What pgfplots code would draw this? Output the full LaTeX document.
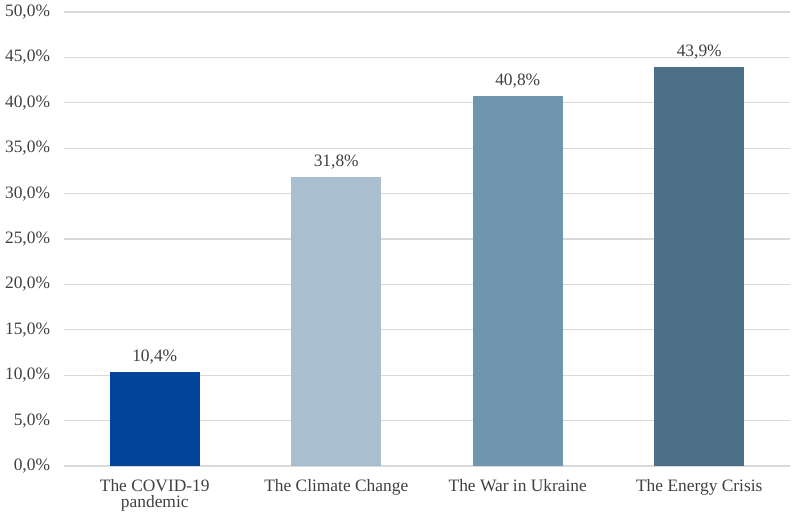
\documentclass[border=0pt]{standalone}
\usepackage{pgfplots}
\pgfplotsset{compat=1.18}
\usepackage{fontspec}
\setmainfont{Liberation Serif}
\definecolor{c1}{HTML}{02449A}
\definecolor{c2}{HTML}{A9BECE}
\definecolor{c3}{HTML}{7095B0}
\definecolor{c4}{HTML}{4D7089}
\definecolor{gridc}{HTML}{D9D9D9}
\definecolor{txt}{HTML}{404040}
\begin{document}
\fontsize{17.4bp}{16.5bp}\selectfont
\begin{tikzpicture}
\begin{axis}[
  scale only axis,
  width=726bp, height=454bp,
  xmin=-0.5, xmax=3.5,
  ymin=0, ymax=50,
  ytick={0,5,...,50},
  xtick={0,1,2,3},
  xticklabels={{The COVID-19\\pandemic},{The Climate Change},{The War in Ukraine},{The Energy Crisis}},
  xticklabel style={align=center, text=txt, yshift=-7bp, font=\fontsize{17.4bp}{16.5bp}\selectfont},
  yticklabel style={text=txt, xshift=-8bp, font=\fontsize{17.4bp}{16.5bp}\selectfont},
  /pgf/number format/assume math mode=true,
  yticklabel={\pgfmathprintnumber[fixed,fixed zerofill,precision=1,use comma]{\tick}\%},
  ymajorgrids,
  grid style={gridc, line width=1.2bp},
  axis line style={draw=none},
  major tick length=0pt,
  ybar, bar width=90bp, bar shift=0pt,
  nodes near coords={\pgfmathprintnumber[fixed,fixed zerofill,precision=1,use comma]{\pgfplotspointmeta}\%},
  nodes near coords style={anchor=base, inner sep=0pt, yshift=10.5bp, text=txt, font=\fontsize{17.4bp}{16.5bp}\selectfont},
]
\addplot[fill=c1, draw=none] coordinates {(0,10.4)};
\addplot[fill=c2, draw=none] coordinates {(1,31.8)};
\addplot[fill=c3, draw=none] coordinates {(2,40.8)};
\addplot[fill=c4, draw=none] coordinates {(3,43.9)};
\end{axis}
\pgfresetboundingbox
\path[use as bounding box] ([xshift=-64bp,yshift=-56bp]current axis.south west) rectangle ([xshift=5bp,yshift=12bp]current axis.north east);
\end{tikzpicture}
\end{document}
